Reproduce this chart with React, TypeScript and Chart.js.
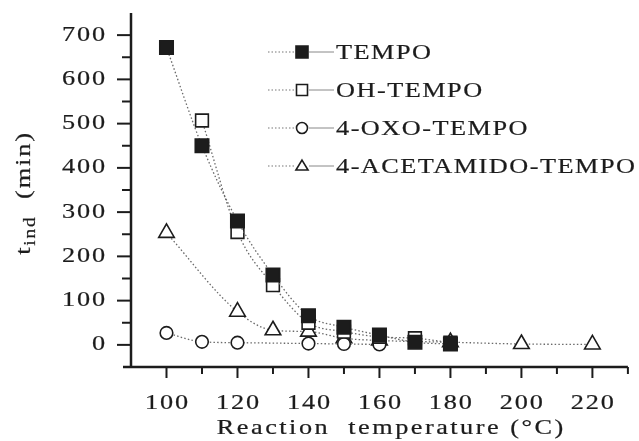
import React, { useEffect, useRef } from "react";
import { Chart, registerables } from "chart.js";

Chart.register(...registerables);

// ---- data ----
const tempTEMPO = [100, 110, 120, 130, 140, 150, 160, 170, 180];
const tindTEMPO = [672, 450, 280, 158, 66, 40, 22, 6, 2];

const tempOH = [110, 120, 130, 140, 150, 160, 170, 180];
const tindOH = [507, 255, 135, 50, 30, 18, 15, 5];

const tempOXO = [100, 110, 120, 140, 150, 160];
const tindOXO = [27, 7, 5, 3, 2, 1];

const tempACET = [100, 120, 130, 140, 150, 160, 180, 200, 220];
const tindACET = [253, 75, 33, 30, 15, 10, 6, 2, 1];

const seriesNames = ["TEMPO", "OH-TEMPO", "4-OXO-TEMPO", "4-ACETAMIDO-TEMPO"];
const yTickValues = [0, 100, 200, 300, 400, 500, 600, 700];
const xTickValues = [100, 120, 140, 160, 180, 200, 220];
const xTitle = "Reaction  temperature (°C)";

const FONT = '"Liberation Serif", "Times New Roman", serif';
const INK = "#1c1c1c";
const STROKE_W = 0.22;

function pts(xs: number[], ys: number[]) {
  return xs.map((x, i) => ({ x, y: ys[i] }));
}

function drawWideText(
  ctx: CanvasRenderingContext2D,
  text: string,
  x: number,
  y: number,
  size: number,
  align: "left" | "center" | "right",
  spacing = 1.2,
  sx = 1.25
) {
  ctx.save();
  ctx.font = `${size}px ${FONT}`;
  (ctx as any).letterSpacing = `${spacing}px`;
  ctx.textBaseline = "middle";
  ctx.textAlign = "left";
  const w = (ctx.measureText(text).width - spacing) * sx;
  let x0 = x;
  if (align === "center") x0 = x - w / 2;
  else if (align === "right") x0 = x - w;
  ctx.translate(x0, y);
  ctx.scale(sx, 1);
  ctx.fillStyle = INK;
  ctx.strokeStyle = INK;
  ctx.lineWidth = STROKE_W;
  ctx.fillText(text, 0, 0);
  ctx.strokeText(text, 0, 0);
  ctx.restore();
  return w;
}

function drawMarker(ctx: CanvasRenderingContext2D, kind: string, x: number, y: number, s: number) {
  ctx.save();
  ctx.lineWidth = 1.6;
  ctx.strokeStyle = INK;
  ctx.fillStyle = "#fff";
  ctx.beginPath();
  if (kind === "filled" || kind === "rect") {
    ctx.rect(x - s / 2, y - s / 2, s, s);
    if (kind === "filled") {
      ctx.fillStyle = INK;
    }
    ctx.fill();
    ctx.stroke();
  } else if (kind === "circle") {
    ctx.arc(x, y, s / 2, 0, Math.PI * 2);
    ctx.fill();
    ctx.stroke();
  } else {
    const h = s * 0.9;
    ctx.moveTo(x, y - h * 0.6);
    ctx.lineTo(x + s * 0.55, y + h * 0.4);
    ctx.lineTo(x - s * 0.55, y + h * 0.4);
    ctx.closePath();
    ctx.fill();
    ctx.stroke();
  }
  ctx.restore();
}

const decorPlugin = {
  id: "decor",
  beforeDatasetsDraw(chart: any) {
    const ctx: CanvasRenderingContext2D = chart.ctx;
    const xs = chart.scales.x;
    const ys = chart.scales.y;
    const { left, right, top, bottom } = chart.chartArea;
    ctx.save();
    ctx.strokeStyle = INK;
    ctx.lineCap = "butt";
    ctx.lineWidth = 2.5;
    ctx.beginPath();
    ctx.moveTo(left, top);
    ctx.lineTo(left, bottom + 1);
    ctx.moveTo(left - 8, bottom);
    ctx.lineTo(right, bottom);
    ctx.stroke();
    ctx.lineWidth = 2;
    for (let v = 0; v <= 700; v += 50) {
      const py = ys.getPixelForValue(v);
      const len = v % 100 === 0 ? 14 : 9;
      ctx.beginPath();
      ctx.moveTo(left - len, py);
      ctx.lineTo(left, py);
      ctx.stroke();
    }
    for (let v = 100; v <= 230; v += 10) {
      const px = xs.getPixelForValue(v);
      const len = v % 20 === 0 ? 11 : 7;
      ctx.beginPath();
      ctx.moveTo(px, bottom);
      ctx.lineTo(px, bottom + len);
      ctx.stroke();
    }
    ctx.restore();
  },
  afterDraw(chart: any) {
    const ctx: CanvasRenderingContext2D = chart.ctx;
    const xs = chart.scales.x;
    const ys = chart.scales.y;
    const { left, bottom } = chart.chartArea;

    yTickValues.forEach((v) => {
      drawWideText(ctx, String(v), left - 26, ys.getPixelForValue(v), 21, "right", 1.5, 1.25);
    });
    xTickValues.forEach((v) => {
      drawWideText(ctx, String(v), xs.getPixelForValue(v), bottom + 36, 21, "center", 1.5, 1.25);
    });

    drawWideText(ctx, xTitle, 390, 428, 21, "center", 2, 1.25);

    // y title (rotated)
    ctx.save();
    ctx.translate(24, 193);
    ctx.rotate(-Math.PI / 2);
    ctx.fillStyle = INK;
    ctx.strokeStyle = INK;
    ctx.lineWidth = STROKE_W;
    ctx.textBaseline = "middle";
    ctx.textAlign = "left";
    (ctx as any).letterSpacing = "1.5px";
    ctx.font = `22px ${FONT}`;
    const wT = ctx.measureText("t").width;
    ctx.font = `16px ${FONT}`;
    const wI = ctx.measureText("ind").width;
    ctx.font = `22px ${FONT}`;
    const wM = ctx.measureText("  (min)").width;
    const sx = 1.2;
    const cx = (-(wT + wI + wM) * sx) / 2;
    ctx.translate(cx, 0);
    ctx.scale(sx, 1);
    ctx.font = `22px ${FONT}`;
    ctx.fillText("t", 0, 0);
    ctx.strokeText("t", 0, 0);
    ctx.font = `16px ${FONT}`;
    ctx.fillText("ind", wT, 7);
    ctx.strokeText("ind", wT, 7);
    ctx.font = `22px ${FONT}`;
    ctx.fillText("  (min)", wT + wI, 0);
    ctx.strokeText("  (min)", wT + wI, 0);
    ctx.restore();

    // legend
    const kinds = ["filled", "rect", "circle", "triangle"];
    const rowsY = [52, 90, 128, 166];
    seriesNames.forEach((name, i) => {
      const y = rowsY[i];
      ctx.save();
      ctx.strokeStyle = "#777";
      ctx.lineWidth = 1.2;
      ctx.setLineDash([1.5, 2]);
      ctx.beginPath();
      ctx.moveTo(268, y);
      ctx.lineTo(294, y);
      ctx.stroke();
      ctx.setLineDash([]);
      ctx.strokeStyle = "#888";
      ctx.lineWidth = 1;
      ctx.beginPath();
      ctx.moveTo(309, y);
      ctx.lineTo(334, y);
      ctx.stroke();
      ctx.restore();
      drawMarker(ctx, kinds[i], 302, y, i === 0 ? 12 : 11);
      drawWideText(ctx, name, 336, y + 1, 21, "left", 1.2, 1.25);
    });
  },
};

const lineStyle = {
  borderColor: "#6a6a6a",
  borderWidth: 1.3,
  borderDash: [1.5, 2.2],
  cubicInterpolationMode: "monotone" as const,
  showLine: true,
  pointBorderColor: INK,
  pointBorderWidth: 1.6,
  clip: false as any,
};

export default function App() {
  const ref = useRef<HTMLCanvasElement | null>(null);

  useEffect(() => {
    if (!ref.current) return;
    const chart = new Chart(ref.current, {
      type: "scatter",
      data: {
        datasets: [
          {
            ...lineStyle,
            label: seriesNames[0],
            data: pts(tempTEMPO, tindTEMPO),
            pointStyle: "rect",
            pointRadius: 9.5,
            pointBackgroundColor: INK,
          },
          {
            ...lineStyle,
            label: seriesNames[1],
            data: pts(tempOH, tindOH),
            pointStyle: "rect",
            pointRadius: 9,
            pointBackgroundColor: "#fff",
          },
          {
            ...lineStyle,
            label: seriesNames[2],
            data: pts(tempOXO, tindOXO),
            pointStyle: "circle",
            pointRadius: 6.3,
            pointBackgroundColor: "#fff",
          },
          {
            ...lineStyle,
            label: seriesNames[3],
            data: pts(tempACET, tindACET),
            pointStyle: "triangle",
            pointRadius: 9,
            pointBackgroundColor: "#fff",
          },
        ],
      },
      options: {
        animation: false,
        responsive: false,
        maintainAspectRatio: false,
        layout: { padding: { left: 0, right: 4, top: 13, bottom: 0 } },
        plugins: {
          legend: { display: false },
          tooltip: { enabled: false },
          title: { display: false },
        },
        scales: {
          x: {
            type: "linear",
            min: 90,
            max: 230,
            grid: { display: false },
            border: { display: false },
            ticks: { display: false },
            afterBuildTicks: (s: any) => {
              s.ticks = xTickValues.map((v) => ({ value: v }));
            },
            afterFit: (s: any) => {
              s.height = 74;
            },
          },
          y: {
            type: "linear",
            min: -50,
            max: 750,
            grid: { display: false },
            border: { display: false },
            ticks: { display: false },
            afterBuildTicks: (s: any) => {
              s.ticks = yTickValues.map((v) => ({ value: v }));
            },
            afterFit: (s: any) => {
              s.width = 131;
            },
          },
        },
      },
      plugins: [decorPlugin],
    });
    return () => chart.destroy();
  }, []);

  return (
    <div style={{ position: "fixed", left: 0, top: 0, width: 639, height: 441, background: "#fff" }}>
      <canvas ref={ref} width={639} height={441} style={{ width: 639, height: 441 }} />
    </div>
  );
}
